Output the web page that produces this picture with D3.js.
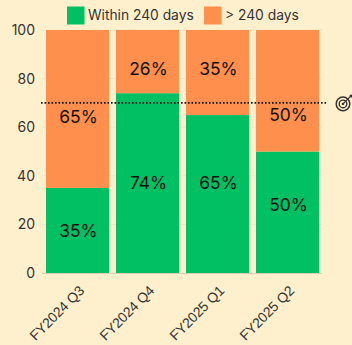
<!DOCTYPE html>
<html>
<head>
<meta charset="utf-8">
<script src="https://cdn.jsdelivr.net/npm/d3@7"></script>
<style>
html,body{margin:0;padding:0;background:#fff0cd;}
svg{display:block;}
</style>
</head>
<body>
<svg id="chart" width="352" height="345"></svg>
<script>
const quarters = ["FY2024 Q3", "FY2024 Q4", "FY2025 Q1", "FY2025 Q2"];
const within240 = [35, 74, 65, 50];
const over240 = [65, 26, 35, 50];
// Heights on the value axis where each percentage label sits
const withinLabelAt = [17.5, 37, 37, 28];
const overLabelAt = [64.5, 84, 84, 65];
const yTicks = [0, 20, 40, 60, 80, 100];
const targetValue = 70;
const seriesNames = ["Within 240 days", "> 240 days"];
const seriesColors = ["#00c064", "#ff8f4d"];

const svg = d3.select("#chart");
const x = d3.scaleBand().domain(quarters).range([42.5, 322.5]).paddingInner(0.1).paddingOuter(0.05);
const y = d3.scaleLinear().domain([0, 100]).range([273, 30]);
const sans = "Inter, 'Noto Sans', sans-serif";

// Faint horizontal grid
svg.append("g").selectAll("line").data(yTicks).join("line")
  .attr("x1", 42).attr("x2", 322)
  .attr("y1", d => y(d)).attr("y2", d => y(d))
  .attr("stroke", "#f0e4c4").attr("stroke-width", 1);

// Baseline
svg.append("line").attr("x1", 42).attr("x2", 322).attr("y1", 273.5).attr("y2", 273.5)
  .attr("stroke", "#d9cfb4").attr("stroke-width", 1);

// Stacked bars
const groups = svg.append("g").selectAll("g").data(quarters).join("g");
groups.append("rect")
  .attr("x", d => x(d)).attr("width", x.bandwidth())
  .attr("y", (d, i) => y(within240[i]))
  .attr("height", (d, i) => y(0) - y(within240[i]))
  .attr("fill", seriesColors[0]);
groups.append("rect")
  .attr("x", d => x(d)).attr("width", x.bandwidth())
  .attr("y", (d, i) => y(within240[i] + over240[i]))
  .attr("height", (d, i) => y(within240[i]) - y(within240[i] + over240[i]))
  .attr("fill", seriesColors[1]);

// Target line, under the percentage labels
svg.append("line")
  .attr("x1", 41).attr("x2", 326)
  .attr("y1", y(targetValue)).attr("y2", y(targetValue))
  .attr("stroke", "#111").attr("stroke-width", 1.6).attr("stroke-dasharray", "1.6 1.9");

// Percentage labels inside each segment
const valueLabel = (vals, at) => groups.append("text")
  .attr("x", d => x(d) + x.bandwidth() / 2 + 1)
  .attr("y", (d, i) => y(at[i]))
  .attr("dy", "0.36em")
  .attr("text-anchor", "middle")
  .attr("font-family", sans).attr("font-size", 17.4).attr("fill", "#111")
  .text((d, i) => vals[i] + "%");
valueLabel(within240, withinLabelAt);
valueLabel(over240, overLabelAt);

// Value axis
const yAxis = d3.axisLeft(y).tickValues(yTicks).tickSize(0).tickPadding(7);
const yG = svg.append("g").attr("transform", "translate(42,0)").call(yAxis);
yG.select(".domain").remove();
yG.selectAll("text").attr("font-family", sans).attr("font-size", 14).attr("fill", "#333");

// Category axis with slanted labels
const xAxis = d3.axisBottom(x).tickSize(0).tickPadding(0);
const xG = svg.append("g").attr("transform", "translate(0,273)").call(xAxis);
xG.select(".domain").remove();
xG.selectAll("text")
  .attr("font-family", "'Liberation Sans', Arial, sans-serif")
  .attr("font-size", 14).attr("fill", "#333")
  .attr("letter-spacing", -0.15)
  .attr("text-anchor", "end")
  .attr("dy", 0)
  .attr("y", 0)
  .attr("transform", "translate(2,13) rotate(-45) translate(0,8)");

// Target icon
const icon = svg.append("g").attr("transform", `translate(343,${y(targetValue) + 1})`)
  .attr("fill", "none").attr("stroke", "#333");
icon.append("circle").attr("r", 6.8).attr("stroke-width", 1.5);
icon.append("circle").attr("r", 3.8).attr("stroke-width", 1.4);
icon.append("circle").attr("r", 1.2).attr("fill", "#333").attr("stroke", "none");
icon.append("line").attr("x1", 0).attr("y1", 0).attr("x2", 7).attr("y2", -7).attr("stroke-width", 1.2);
icon.append("circle").attr("cx", 8).attr("cy", -8).attr("r", 1.5).attr("fill", "#333").attr("stroke", "none");

// Legend
const legendX = [67, 204];
const legendTextX = [88, 225];
const legend = svg.append("g").selectAll("g").data(seriesNames).join("g");
legend.append("rect")
  .attr("x", (d, i) => legendX[i]).attr("y", 6.5)
  .attr("width", 17.5).attr("height", 18)
  .attr("fill", (d, i) => seriesColors[i]);
legend.append("text")
  .attr("x", (d, i) => legendTextX[i]).attr("y", 15)
  .attr("dy", "0.36em")
  .attr("font-family", sans).attr("font-size", 13.8).attr("fill", "#333")
  .text(d => d);
</script>
</body>
</html>
